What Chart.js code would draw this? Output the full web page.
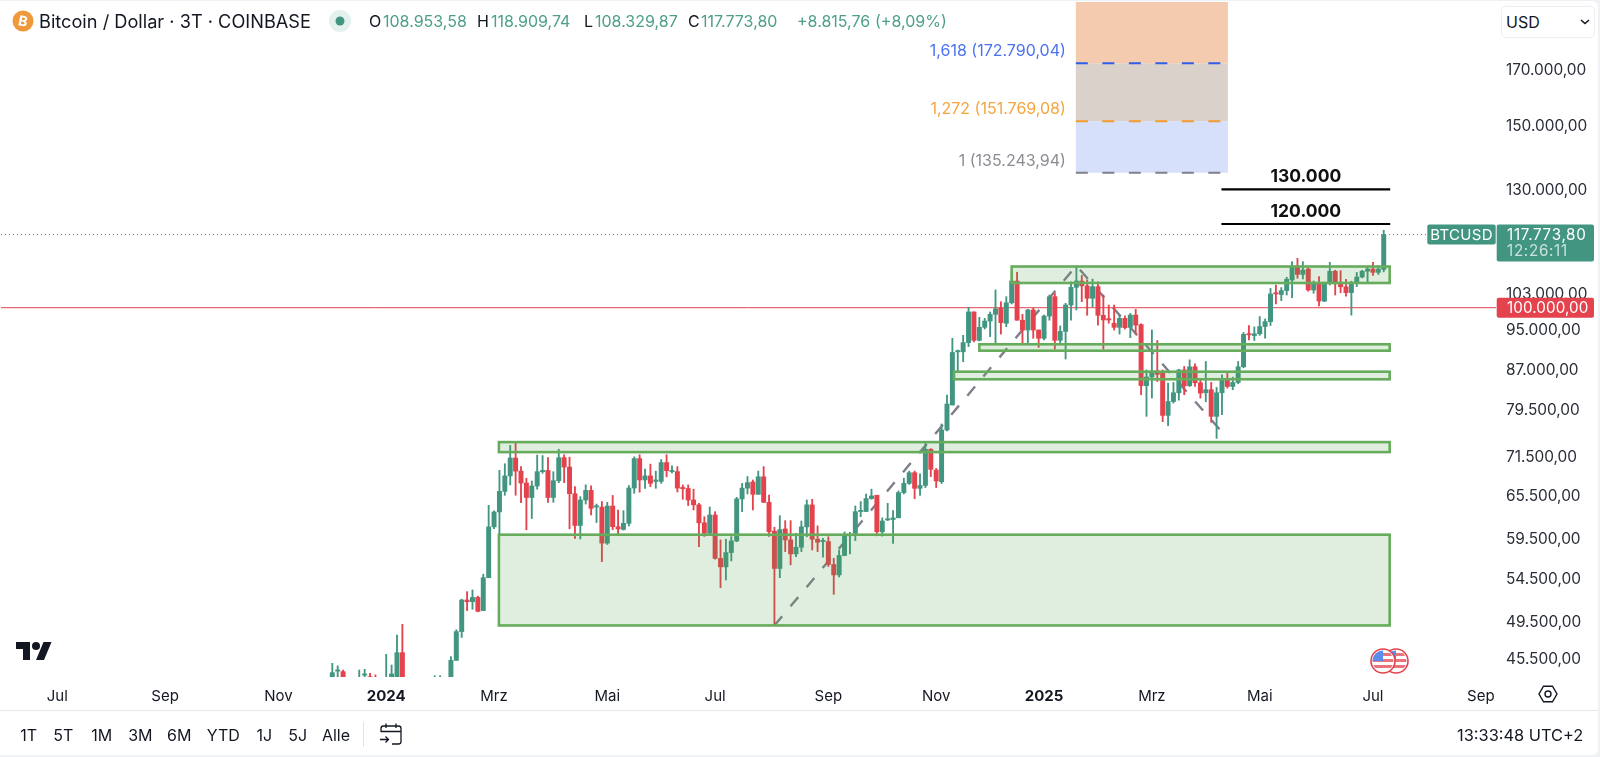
<!DOCTYPE html>
<html>
<head>
<meta charset="utf-8">
<title>Bitcoin / Dollar</title>
<script src="https://cdn.jsdelivr.net/npm/chart.js@4"></script>
<style>
    html, body { margin: 0; padding: 0; background: #eff1f4; width: 1600px; height: 757px; overflow: hidden; }
    body { font-family: Inter, "Noto Sans", sans-serif; color: #131722; }
    #card { position: absolute; left: 0; top: 1px; width: 1598px; height: 754px; background: #fff; border-radius: 0 6px 6px 0; }
    #priceChart { position: absolute; left: 0; top: 0; }
    .t { position: absolute; white-space: nowrap; transform: translateY(-50%); line-height: 1; }
    .hd { font-size: 16px; }
    .up { color: #4d9f8a; }
    .tb { font-size: 16px; transform: translate(-50%, -50%); }
    #axisLine { position: absolute; left: 0; top: 710px; width: 1598px; height: 1px; background: #e6e8ec; }
    #divider { position: absolute; left: 363px; top: 722px; width: 1px; height: 25px; background: #e0e3e8; }
    #currency { position: absolute; left: 1501px; top: 6px; width: 92px; height: 30px; border: 1px solid #eceef2; border-radius: 5px; background: #fff; }
    svg { position: absolute; overflow: visible; }
</style>
</head>
<body>
<div id="card"></div>
<canvas id="priceChart" width="1600" height="710"></canvas>
<div id="axisLine"></div>

<svg style="left:12px;top:10px" width="22" height="22" viewBox="0 0 22 22">
    <circle cx="11" cy="11" r="10.5" fill="#f0993a"/>
    <text x="11" y="16" text-anchor="middle" font-family="Inter" font-weight="700" font-size="14" fill="#fff" transform="rotate(12 11 11)">B</text>
</svg>
<div class="t" style="left:39px;top:21px;font-size:18.2px">Bitcoin / Dollar · 3T · COINBASE</div>
<svg style="left:329px;top:10px" width="22" height="22" viewBox="0 0 22 22">
    <circle cx="11" cy="11" r="11" fill="#e4f1ee"/>
    <circle cx="11" cy="11" r="4.5" fill="#429681"/>
</svg>
<div class="t hd" style="left:369px;top:21px">O</div><div class="t hd up" style="left:383px;top:21px">108.953,58</div>
<div class="t hd" style="left:477px;top:21px">H</div><div class="t hd up" style="left:491px;top:21px">118.909,74</div>
<div class="t hd" style="left:584px;top:21px">L</div><div class="t hd up" style="left:595px;top:21px">108.329,87</div>
<div class="t hd" style="left:688px;top:21px">C</div><div class="t hd up" style="left:701px;top:21px">117.773,80</div>
<div class="t hd up" style="left:797px;top:21px">+8.815,76</div>
<div class="t hd up" style="left:875px;top:21px">(+8,09%)</div>

<div id="currency"></div>
<div class="t" style="left:1506px;top:22px;font-size:16px">USD</div>
<svg style="left:1580px;top:19px" width="10" height="6" viewBox="0 0 10 6">
    <path d="M1 1l4 3.5L9 1" fill="none" stroke="#131722" stroke-width="1.6"/>
</svg>

<svg style="left:15.7px;top:637.7px" width="36" height="28" viewBox="0 0 36 28" fill="#131722">
    <path d="M14 22H7V11H0V4h14v18zM28 22h-8l7.5-18h8L28 22z"/>
    <circle cx="20" cy="8" r="4"/>
</svg>

<svg style="left:1368px;top:646px" width="44" height="30" viewBox="0 0 44 30">
    <defs>
        <clipPath id="flagClip"><circle cx="15" cy="15" r="10.5"/></clipPath>
        <clipPath id="flagClip2"><circle cx="28" cy="15" r="10.5"/></clipPath>
    </defs>
    <circle cx="28" cy="15" r="12" fill="#fff" stroke="#e2434f" stroke-width="1.6"/>
    <g clip-path="url(#flagClip2)">
        <rect x="17" y="7" width="22" height="3" fill="#e8747c"/>
        <rect x="17" y="13" width="22" height="3" fill="#e8747c"/>
        <rect x="17" y="19" width="22" height="3" fill="#e8747c"/>
        <rect x="17" y="4" width="11" height="10" fill="#5b8def"/>
    </g>
    <circle cx="15" cy="15" r="12" fill="#fff" stroke="#e2434f" stroke-width="1.6"/>
    <g clip-path="url(#flagClip)">
        <rect x="4" y="13" width="22" height="3" fill="#e8747c"/>
        <rect x="4" y="19" width="22" height="3" fill="#e8747c"/>
        <rect x="15" y="7" width="11" height="3" fill="#e8747c"/>
        <rect x="4" y="4" width="11" height="11" fill="#5b8def"/>
    </g>
</svg>

<svg style="left:1538px;top:684px" width="20" height="20" viewBox="0 0 20 20">
    <path d="M5.5 2.2h9L19 10l-4.5 7.8h-9L1 10z" fill="none" stroke="#131722" stroke-width="1.4"/>
    <circle cx="10" cy="10" r="3" fill="none" stroke="#131722" stroke-width="1.4"/>
</svg>

<div class="t tb" style="left:28.7px;top:735px">1T</div>
<div class="t tb" style="left:63.3px;top:735px">5T</div>
<div class="t tb" style="left:101.7px;top:735px">1M</div>
<div class="t tb" style="left:140.3px;top:735px">3M</div>
<div class="t tb" style="left:179.3px;top:735px">6M</div>
<div class="t tb" style="left:223.3px;top:735px">YTD</div>
<div class="t tb" style="left:264.3px;top:735px">1J</div>
<div class="t tb" style="left:297.7px;top:735px">5J</div>
<div class="t tb" style="left:336px;top:735px">Alle</div>
<div id="divider"></div>
<svg style="left:379px;top:722px" width="24" height="25" viewBox="0 0 24 25">
    <path d="M2 10V6.5A2.5 2.5 0 0 1 4.500 4h15A2.500 2.500 0 0 1 22 6.500v13a2.500 2.500 0 0 1-2.500 2.500H13M2 9.500h20M7 1.500V6M17 1.500V6M1 17.500h8M6.500 14.500l3 3-3 3" fill="none" stroke="#131722" stroke-width="1.3"/>
</svg>
<div class="t" style="left:1457px;top:735px;font-size:16.4px">13:33:48 UTC+2</div>

<script>
// 3-day candles, oldest first
const opens = [
    43700, 44350, 44300, 43500, 43000, 43000, 43950, 43800, 43600, 43300,
    42000, 43500, 43700, 46220, 43000, 42500, 42800, 43200, 41500, 42800,
    43000, 43300, 43000, 45430, 48450, 52000, 51800, 52300, 50780, 54660,
    61240, 63320, 66300, 68640, 71440, 69380, 67550, 65400, 67110, 69290,
    69480, 65400, 67910, 71490, 70010, 65960, 61430, 65040, 66450, 64030,
    64010, 59050, 64160, 61260, 60900, 61730, 66800, 71350, 68020, 68640,
    67800, 67800, 70720, 69300, 69300, 66890, 66740, 65040, 64340, 61800,
    60370, 62890, 57070, 56000, 57820, 59340, 65190, 66790, 67710, 65870,
    68500, 64700, 60660, 55800, 60960, 59480, 57650, 58510, 61240, 64330,
    59570, 59260, 59260, 56290, 55000, 57440, 60030, 60370, 63380, 63380,
    65240, 65730, 60570, 62200, 62250, 62490, 66120, 67500, 69130, 66760,
    67190, 72850, 69530, 67760, 76060, 80440, 90600, 90600, 92480, 99060,
    92960, 95700, 97060, 98530, 99910, 96570, 101100, 106150, 97240, 95130,
    99490, 95130, 93380, 98140, 102500, 92960, 94830, 100600, 104670, 106150,
    105000, 102130, 104820, 98310, 97500, 96570, 95700, 97640, 95700, 98360,
    96300, 84000, 85630, 86800, 86350, 78590, 81070, 82670, 87000, 83970,
    87610, 84540, 82670, 83240, 78420, 82670, 85290, 83850, 84600, 87610,
    94300, 93950, 94330, 95870, 96940, 103350, 103000, 103900, 106400, 109770,
    107730, 109040, 104040, 105850, 101500, 105700, 108500, 105700, 104790, 103430,
    105700, 107100, 108500, 109040, 108230, 108953.58
];
const closes = [
    44200, 44420, 43700, 43000, 43400, 43500, 43980, 43400, 43300, 42700,
    43500, 44070, 46220, 43500, 42500, 42800, 43200, 41500, 42800, 43000,
    43300, 43000, 45430, 48450, 52000, 51800, 52300, 50700, 54660, 61240,
    63320, 66300, 68640, 71440, 69380, 67550, 65400, 67110, 69290, 69480,
    65400, 67910, 71490, 70010, 65960, 61430, 65040, 66450, 63830, 64160,
    59050, 64160, 61260, 60950, 61730, 66800, 71350, 68020, 68640, 67500,
    68020, 70720, 69450, 69400, 66790, 66700, 65040, 64340, 61800, 60370,
    62890, 57070, 56000, 57820, 59340, 65190, 66790, 67610, 65870, 68500,
    64700, 60570, 55800, 60870, 59480, 57650, 58510, 61240, 64330, 59570,
    59170, 59390, 56290, 55000, 57440, 60030, 60210, 63360, 63510, 65240,
    65630, 60570, 62050, 62340, 62490, 66120, 67500, 69130, 66760, 67190,
    72850, 69650, 67860, 76060, 80620, 90470, 90730, 92480, 99060, 92960,
    95700, 97060, 98530, 99760, 96710, 101100, 106150, 97240, 95130, 99490,
    95130, 93380, 98140, 102500, 92960, 94830, 100600, 104670, 106150, 105000,
    102130, 104820, 98310, 97300, 97300, 95700, 97640, 95620, 98360, 96190,
    84000, 85630, 86800, 86150, 78590, 81070, 82670, 87000, 83970, 87610,
    84540, 82610, 83240, 78420, 82670, 85290, 83850, 84600, 87610, 94220,
    94100, 94330, 95870, 96940, 103120, 103120, 103900, 106560, 109770, 107730,
    108800, 104040, 105850, 101500, 105850, 108500, 105700, 104790, 103430, 105700,
    107100, 108500, 109040, 108230, 109040, 117773.80
];
const highs = [
    45130, 44870, 44450, 43700, 43600, 44460, 44530, 44130, 43970, 43700,
    46050, 44960, 48080, 49240, 43500, 43400, 43600, 43700, 43100, 43900,
    43900, 43700, 45810, 48650, 52100, 52980, 53180, 52450, 55090, 64260,
    63480, 69500, 70530, 73480, 74010, 70080, 68280, 67860, 71920, 71830,
    71530, 69290, 72850, 71960, 71580, 67010, 65530, 67280, 67130, 64450,
    64810, 64700, 65700, 63600, 63500, 67180, 71630, 71960, 69680, 70470,
    69370, 71200, 71960, 70190, 70080, 67270, 67270, 66630, 64560, 62650,
    64030, 63360, 59480, 59570, 59920, 65430, 67500, 68540, 68020, 69380,
    70080, 65770, 61190, 62800, 62100, 62100, 60370, 62050, 65040, 65140,
    61370, 59700, 59900, 57090, 58160, 60550, 60500, 64170, 64810, 65920,
    66630, 65730, 62490, 64560, 63500, 66370, 68280, 69380, 69380, 68940,
    73950, 72950, 69800, 77090, 82250, 93380, 90970, 94010, 100100, 99060,
    97870, 97640, 99050, 104040, 101360, 102500, 108260, 108260, 98530, 99640,
    99860, 95130, 98360, 102880, 103260, 96000, 100980, 105960, 109840, 107500,
    106440, 106600, 105960, 102880, 100600, 100600, 98360, 98180, 98730, 99640,
    96480, 87000, 95150, 92920, 87000, 84480, 84600, 87130, 87680, 88990,
    88200, 85100, 88660, 84600, 83660, 86060, 86570, 85600, 88660, 94600,
    96090, 95800, 98040, 97500, 104400, 105200, 104600, 107050, 110850, 111680,
    110850, 109360, 106160, 107210, 105850, 110680, 108740, 108640, 106560, 106100,
    108200, 108740, 109620, 110680, 109850, 118909.74
];
const lows = [
    43400, 43500, 43400, 42800, 42600, 42500, 43000, 43200, 43100, 42500,
    41500, 43200, 43300, 43000, 42000, 41000, 42200, 41000, 41000, 41500,
    42000, 42500, 42800, 45430, 47820, 50780, 50930, 50640, 50780, 54660,
    61000, 60030, 65730, 67270, 65730, 64650, 60840, 62400, 66630, 69040,
    64700, 64700, 67610, 67610, 60980, 59660, 59610, 64450, 62900, 61840,
    56660, 58880, 60840, 60290, 60800, 61370, 66020, 66180, 66760, 67010,
    66760, 67500, 68500, 69090, 66220, 65140, 64230, 63600, 58600, 59950,
    60290, 56970, 53460, 54380, 56750, 59250, 63360, 65920, 63600, 65870,
    64650, 59950, 49120, 54660, 57950, 56250, 57300, 57950, 59900, 58160,
    57950, 57240, 56040, 52660, 54740, 57400, 57650, 59390, 62650, 63360,
    65140, 60030, 59990, 62100, 59020, 62590, 65920, 67340, 65240, 65700,
    66870, 68530, 66870, 67470, 75900, 80440, 86860, 88630, 91660, 92620,
    92840, 95350, 93730, 92340, 94270, 95840, 100830, 97240, 92200, 92200,
    93380, 91500, 93040, 97240, 91160, 92340, 89150, 97240, 99490, 101360,
    98310, 100230, 96190, 91160, 96570, 95130, 94270, 95350, 93520, 94270,
    82300, 78420, 81690, 84790, 77490, 76800, 80780, 81320, 82300, 83850,
    83850, 81690, 81010, 77380, 74650, 78700, 83540, 83240, 84350, 87420,
    93060, 92920, 94000, 93400, 96100, 100850, 101600, 102880, 102240, 106800,
    106640, 103750, 103280, 100400, 101350, 105210, 102880, 103430, 102600, 98350,
    104820, 106880, 105500, 107500, 107730, 108329.87
];

const priceTicks = [170000, 150000, 130000, 103000, 95000, 87000, 79500, 71500, 65500, 59500, 54500, 49500, 45500];
const monthTicks = [-51, -31, -10, 10, 30, 51, 71, 92, 112, 132, 152, 172, 193, 213];
const monthLabels = ['Jul', 'Sep', 'Nov', '2024', 'Mrz', 'Mai', 'Jul', 'Sep', 'Nov', '2025', 'Mrz', 'Mai', 'Jul', 'Sep'];

// green boxes: from candle, to candle, lower and upper price
const zoneStarts = [126, 120, 115.3, 30.9, 30.9];
const zoneEnds = [196.1, 196.1, 196.1, 196.1, 196.1];
const zoneLows = [105680, 90830, 85200, 72390, 49120];
const zoneHighs = [109650, 92140, 86660, 74030, 60180];

// fib extension block
const fibStart = 137.9;
const fibEnd = 166.1;
const fibLineEnd = 164.8;
const fibValues = [135243.94, 151769.08, 172790.04];
const fibLabels = ['1 (135.243,94)', '1,272 (151.769,08)', '1,618 (172.790,04)'];

// hand-drawn targets
const targetValues = [130330, 120590];
const targetLabels = ['130.000', '120.000'];
const targetStart = 164.9;
const targetEnd = 196.2;

// dashed gray swing line
const swingX = [82, 138, 165.2];
const swingY = [49120, 109840, 75500];

const xMin = -61.44;
const xMax = 215.82;
const yMin = 43770;
const yMax = 198160;
const lastPrice = 117773.80;
const roundLevel = 100000;

const UP = '#429681';
const DOWN = '#e4434e';

const fmtPrice = (v) => v.toLocaleString('de-DE', { minimumFractionDigits: 2, maximumFractionDigits: 2 });
const candleColors = opens.map((o, i) => (closes[i] >= o ? UP : DOWN));

const overlayPlugin = {
    id: 'overlay',
    beforeDatasetsDraw(chart) {
        const { ctx, scales: { x, y } } = chart;
        const left = x.getPixelForValue(fibStart);
        const width = x.getPixelForValue(fibEnd) - left;
        const bandColors = ['#d6e0fb', '#dbd1cb', '#f5cbb0'];
        const bandTops = [fibValues[1], fibValues[2], yMax];
        ctx.save();
        bandColors.forEach((color, i) => {
            const top = y.getPixelForValue(bandTops[i]);
            ctx.fillStyle = color;
            ctx.fillRect(left, top, width, y.getPixelForValue(fibValues[i]) - top);
        });
        ctx.restore();
    },
    afterDatasetsDraw(chart) {
        const { ctx, scales: { x, y } } = chart;
        ctx.save();
        // zones sit on top of the candles
        zoneStarts.forEach((start, i) => {
            const l = x.getPixelForValue(start);
            const r = x.getPixelForValue(zoneEnds[i]);
            const t = y.getPixelForValue(zoneHighs[i]);
            const b = y.getPixelForValue(zoneLows[i]);
            ctx.fillStyle = 'rgba(76, 160, 70, 0.18)';
            ctx.fillRect(l, t, r - l, b - t);
            ctx.strokeStyle = '#66ac5c';
            ctx.lineWidth = 2.6;
            ctx.strokeRect(l, t, r - l, b - t);
        });

        const lineColors = ['#808088', '#f59a2f', '#2f5fe8'];
        const textColors = ['#8c8c94', '#f5a53f', '#4c72f0'];
        ctx.font = '16px Inter';
        ctx.textAlign = 'right';
        ctx.textBaseline = 'middle';
        fibValues.forEach((value, i) => {
            const py = y.getPixelForValue(value);
            ctx.strokeStyle = lineColors[i];
            ctx.lineWidth = 2;
            ctx.setLineDash([12, 14.5]);
            ctx.beginPath();
            ctx.moveTo(x.getPixelForValue(fibStart), py);
            ctx.lineTo(x.getPixelForValue(fibLineEnd), py);
            ctx.stroke();
            ctx.fillStyle = textColors[i];
            ctx.fillText(fibLabels[i], x.getPixelForValue(fibStart) - 10, py - 12);
        });
        ctx.setLineDash([]);

        ctx.textAlign = 'center';
        ctx.font = '700 17.5px Inter';
        targetValues.forEach((value, i) => {
            const py = y.getPixelForValue(value);
            ctx.strokeStyle = '#000';
            ctx.lineWidth = 2.2;
            ctx.beginPath();
            ctx.moveTo(x.getPixelForValue(targetStart), py);
            ctx.lineTo(x.getPixelForValue(targetEnd), py);
            ctx.stroke();
            ctx.fillStyle = '#111';
            ctx.fillText(targetLabels[i], (x.getPixelForValue(targetStart) + x.getPixelForValue(targetEnd)) / 2, py - 12.5);
        });
        ctx.restore();
    },
    afterDraw(chart) {
        const { ctx, scales: { y } } = chart;
        const priceY = y.getPixelForValue(lastPrice);
        const roundY = y.getPixelForValue(roundLevel);
        ctx.save();
        ctx.fillStyle = UP;
        ctx.beginPath();
        ctx.roundRect(1427.3, priceY - 10, 68.4, 20, 2);
        ctx.fill();
        ctx.beginPath();
        ctx.roundRect(1496.7, priceY - 10, 97.3, 37, 2);
        ctx.fill();
        ctx.fillStyle = DOWN;
        ctx.beginPath();
        ctx.roundRect(1496.7, roundY - 10, 97.3, 20, 2);
        ctx.fill();

        ctx.textBaseline = 'middle';
        ctx.font = '15px Inter';
        ctx.fillStyle = '#fff';
        ctx.textAlign = 'center';
        ctx.letterSpacing = '0.3px';
        ctx.fillText('BTCUSD', 1461.5, priceY + 0.5);
        ctx.textAlign = 'left';
        ctx.font = '15.2px Inter';
        ctx.letterSpacing = '0.7px';
        ctx.fillText(fmtPrice(lastPrice), 1507, priceY + 0.5);
        ctx.fillStyle = 'rgba(255, 255, 255, 0.72)';
        ctx.fillText('12:26:11', 1507, priceY + 17);
        ctx.fillStyle = '#fff';
        ctx.letterSpacing = '0.1px';
        ctx.fillText(fmtPrice(roundLevel), 1507, roundY + 0.5);
        ctx.letterSpacing = '0px';
        ctx.restore();
    }
};

new Chart(document.getElementById('priceChart'), {
    type: 'bar',
    data: {
        datasets: [
            {
                data: opens.map((o, i) => ({ x: i, y: [o, closes[i]] })),
                backgroundColor: candleColors,
                barThickness: 4.3,
                minBarLength: 1.2,
                grouped: false,
                order: 1
            },
            {
                data: lows.map((l, i) => ({ x: i, y: [l, highs[i]] })),
                backgroundColor: candleColors,
                barThickness: 1.2,
                grouped: false,
                order: 2
            },
            {
                type: 'line',
                data: swingX.map((v, i) => ({ x: v, y: swingY[i] })),
                borderColor: '#7f7f8c',
                borderWidth: 2.4,
                borderDash: [12, 13],
                pointRadius: 0,
                tension: 0,
                order: 3
            },
            {
                type: 'line',
                data: [{ x: xMin, y: lastPrice }, { x: xMax, y: lastPrice }],
                borderColor: UP,
                borderWidth: 1,
                borderDash: [1, 3],
                pointRadius: 0,
                order: 4
            },
            {
                type: 'line',
                data: [{ x: xMin, y: roundLevel }, { x: xMax, y: roundLevel }],
                borderColor: DOWN,
                borderWidth: 1,
                pointRadius: 0,
                order: 4
            }
        ]
    },
    options: {
        responsive: false,
        animation: false,
        layout: { padding: { top: 2, left: 1 } },
        plugins: { legend: { display: false }, tooltip: { enabled: false } },
        scales: {
            x: {
                type: 'linear',
                offset: false,
                min: xMin,
                max: xMax,
                grid: { display: false, drawTicks: false },
                border: { display: false },
                afterBuildTicks: (scale) => {
                    scale.ticks = monthTicks.map((value) => ({ value }));
                },
                afterFit: (scale) => {
                    scale.height = 33;
                    scale.paddingLeft = 0;
                    scale.paddingRight = 0;
                },
                ticks: {
                    autoSkip: false,
                    maxRotation: 0,
                    padding: 10,
                    color: '#131722',
                    font: (c) => (/^20/.test(c.tick ? c.tick.label : '') ? { family: 'Inter', size: 15, weight: '700' } : { family: 'Inter', size: 15 }),
                    callback: (value, i) => monthLabels[i]
                }
            },
            y: {
                type: 'logarithmic',
                position: 'right',
                min: yMin,
                max: yMax,
                bounds: 'data',
                beginAtZero: false,
                grid: { display: false, drawTicks: false },
                border: { display: false },
                afterBuildTicks: (scale) => {
                    scale.ticks = priceTicks.map((value) => ({ value }));
                },
                afterFit: (scale) => {
                    scale.width = 104;
                    scale.paddingTop = 0;
                    scale.paddingBottom = 0;
                },
                ticks: {
                    autoSkip: false,
                    padding: 10,
                    color: '#2a2e39',
                    font: { family: 'Inter', size: 15.4 },
                    callback: (value) => fmtPrice(value)
                }
            }
        }
    },
    plugins: [overlayPlugin]
});
</script>
</body>
</html>
